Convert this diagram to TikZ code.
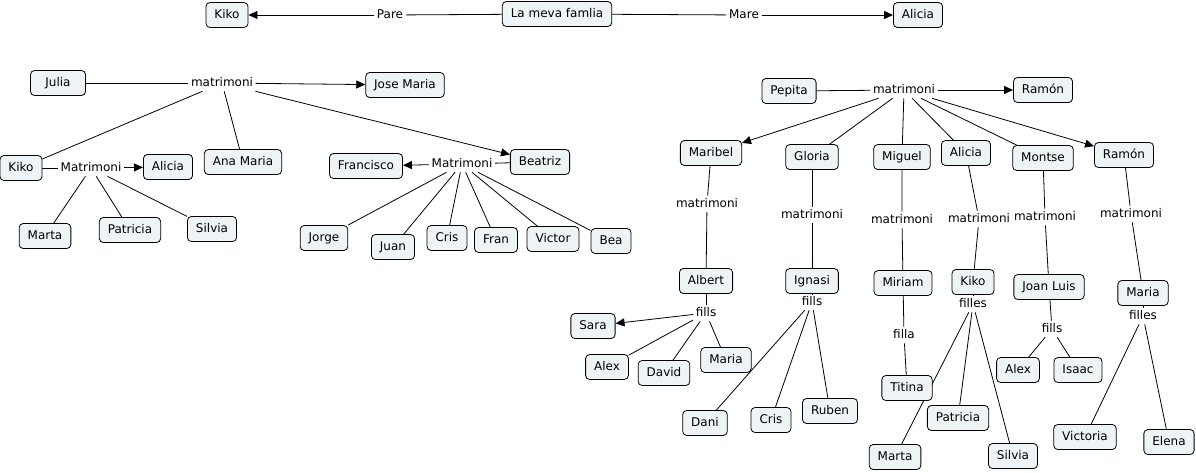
\documentclass[tikz,border=0pt]{standalone}
\usepackage{fontspec}
\setmainfont{DejaVu Sans}
\usepackage{xcolor}
\usetikzlibrary{arrows.meta,positioning}
\pgfdeclarelayer{back}
\pgfdeclarelayer{bg}
\pgfsetlayers{back,bg,main}
\definecolor{boxfill}{HTML}{EEF3F6}
\tikzset{
  concept/.style={draw=black, fill=boxfill, rounded corners=4pt, line width=0.8pt,
    minimum height=25pt, inner xsep=8.5pt, text height=9pt, text depth=2.2pt,
    font=\fontsize{12}{14}\selectfont},
  link/.style={inner sep=2.5pt, text height=9pt, text depth=2.2pt,
    font=\fontsize{12}{14}\selectfont},
  con/.style={line width=0.8pt},
  arr/.style={con, -{Triangle[length=9pt,width=8pt]}},
}

\begin{document}
\begin{tikzpicture}[x=1pt,y=-1pt]
        \begin{pgfonlayer}{back}
            \fill[white] (0,0) rectangle (1196,472);
        \end{pgfonlayer}
        \useasboundingbox (0,0) rectangle (1196,472);

        % Top row
        \node[concept] (fam) at (557,14) {La meva famlia};
        \node[concept] (kikoT) at (227,15) {Kiko};
        \node[concept] (aliciaT) at (918,15) {Alicia};
        \node[link] (pare) at (390,15) {Pare};
        \node[link] (mare) at (744,15) {Mare};

        % Left family
        \node[concept, minimum width=55pt] (julia) at (58,83) {Julia};
        \node[link] (mJulia) at (222,83) {matrimoni};
        \node[concept] (josemaria) at (405,85) {Jose Maria};
        \node[concept] (kikoL) at (21,168) {Kiko};
        \node[link] (mKiko) at (91,168) {Matrimoni};
        \node[concept] (aliciaL) at (168,167) {Alicia};
        \node[concept] (anamaria) at (243,162) {Ana Maria};
        \node[concept] (martaL) at (45,236) {Marta};
        \node[concept] (patriciaL) at (130,230) {Patricia};
        \node[concept] (silviaL) at (212,229) {Silvia};
        \node[concept] (francisco) at (366,166) {Francisco};
        \node[link] (mBeatriz) at (462,164) {Matrimoni};
        \node[concept] (beatriz) at (540,162) {Beatriz};
        \node[concept] (jorge) at (324,238) {Jorge};
        \node[concept] (juan) at (393,247) {Juan};
        \node[concept] (crisL) at (447,238) {Cris};
        \node[concept] (fran) at (496,240) {Fran};
        \node[concept] (victor) at (553,239) {Victor};
        \node[concept] (bea) at (611,241) {Bea};

        % Right family
        \node[concept] (pepita) at (789,91) {Pepita};
        \node[link] (mPepita) at (904,90) {matrimoni};
        \node[concept] (ramonT) at (1043,90) {Ramón};
        \node[concept] (maribel) at (711,153) {Maribel};
        \node[concept] (gloria) at (812,157) {Gloria};
        \node[concept] (miguel) at (902,157) {Miguel};
        \node[concept] (aliciaR) at (966,153) {Alicia};
        \node[concept] (montse) at (1043,158) {Montse};
        \node[concept] (ramon) at (1124,155) {Ramón};

        \node[link] (mMaribel) at (707,204) {matrimoni};
        \node[link] (mGloria) at (812,215) {matrimoni};
        \node[link] (mMiguel) at (902,220) {matrimoni};
        \node[link] (mAlicia) at (979,219) {matrimoni};
        \node[link] (mMontse) at (1045,217) {matrimoni};
        \node[link] (mRamon) at (1131,214) {matrimoni};

        \node[concept] (albert) at (706,281) {Albert};
        \node[concept] (ignasi) at (812,281) {Ignasi};
        \node[concept] (miriam) at (903,283) {Miriam};
        \node[concept] (kikoR) at (973,282) {Kiko};
        \node[concept] (joanluis) at (1049,287) {Joan Luis};
        \node[concept] (mariaR) at (1143,293) {Maria};

        \node[link] (fAlbert) at (706,313) {fills};
        \node[link] (fIgnasi) at (812,302) {fills};
        \node[link] (fMiriam) at (904,335) {filla};
        \node[link] (fKiko) at (973,304) {filles};
        \node[link] (fJoan) at (1052,329) {fills};
        \node[link] (fMaria) at (1143,316) {filles};

        \node[concept] (sara) at (593,326) {Sara};
        \node[concept] (alexA) at (607,367) {Alex};
        \node[concept] (david) at (664,373) {David};
        \node[concept] (mariaA) at (726,360) {Maria};
        \node[concept] (dani) at (705,423) {Dani};
        \node[concept] (crisR) at (771,420) {Cris};
        \node[concept] (ruben) at (830,411) {Ruben};
        \node[concept] (titina) at (907,388) {Titina};
        \node[concept] (patriciaR) at (958,418) {Patricia};
        \node[concept] (martaR) at (895,457) {Marta};
        \node[concept] (silviaR) at (1013,456) {Silvia};
        \node[concept] (alexJ) at (1018,370) {Alex};
        \node[concept] (isaac) at (1078,370) {Isaac};
        \node[concept] (victoria) at (1085,437) {Victoria};
        \node[concept] (elena) at (1169,442) {Elena};

        % Connectors behind the boxes
        \begin{pgfonlayer}{bg}
            \draw[con] (fam) -- (pare);
            \draw[arr] (pare) -- (kikoT);
            \draw[con] (fam) -- (mare);
            \draw[arr] (mare) -- (aliciaT);

            \draw[con] (julia) -- (mJulia);
            \draw[arr] (mJulia) -- (josemaria);
            \draw[arr] (mJulia) -- (beatriz);
            \foreach \c in {kikoL,anamaria} {
                \draw[con] (mJulia) -- (\c);
            }
            \draw[con] (kikoL) -- (mKiko);
            \draw[arr] (mKiko) -- (aliciaL);
            \foreach \c in {martaL,patriciaL,silviaL} {
                \draw[con] (mKiko) -- (\c);
            }
            \draw[con] (beatriz) -- (mBeatriz);
            \draw[arr] (mBeatriz) -- (francisco);
            \foreach \c in {jorge,juan,crisL,fran,victor,bea} {
                \draw[con] (mBeatriz) -- (\c);
            }

            \draw[con] (pepita) -- (mPepita);
            \draw[arr] (mPepita) -- (ramonT);
            \draw[arr] (mPepita) -- (maribel);
            \draw[arr] (mPepita) -- (ramon);
            \foreach \c in {gloria,miguel,aliciaR,montse} {
                \draw[con] (mPepita) -- (\c);
            }

            % Marriages of the children
            \foreach \a/\m/\b in {maribel/mMaribel/albert, gloria/mGloria/ignasi,
                miguel/mMiguel/miriam, aliciaR/mAlicia/kikoR,
                montse/mMontse/joanluis, ramon/mRamon/mariaR} {
                \draw[con] (\a) -- (\m) -- (\b);
            }
            \foreach \a/\f in {albert/fAlbert, ignasi/fIgnasi, miriam/fMiriam,
                kikoR/fKiko, joanluis/fJoan, mariaR/fMaria} {
                \draw[con] (\a) -- (\f);
            }

            % Grandchildren
            \draw[arr] (fAlbert) -- (sara);
            \foreach \c in {alexA,david,mariaA} {
                \draw[con] (fAlbert) -- (\c);
            }
            \foreach \c in {dani,crisR,ruben} {
                \draw[con] (fIgnasi) -- (\c);
            }
            \draw[con] (fMiriam) -- (titina);
            \foreach \c in {martaR,patriciaR,silviaR} {
                \draw[con] (fKiko) -- (\c);
            }
            \foreach \c in {alexJ,isaac} {
                \draw[con] (fJoan) -- (\c);
            }
            \foreach \c in {victoria,elena} {
                \draw[con] (fMaria) -- (\c);
            }
        \end{pgfonlayer}

    \end{tikzpicture}
\end{document}
